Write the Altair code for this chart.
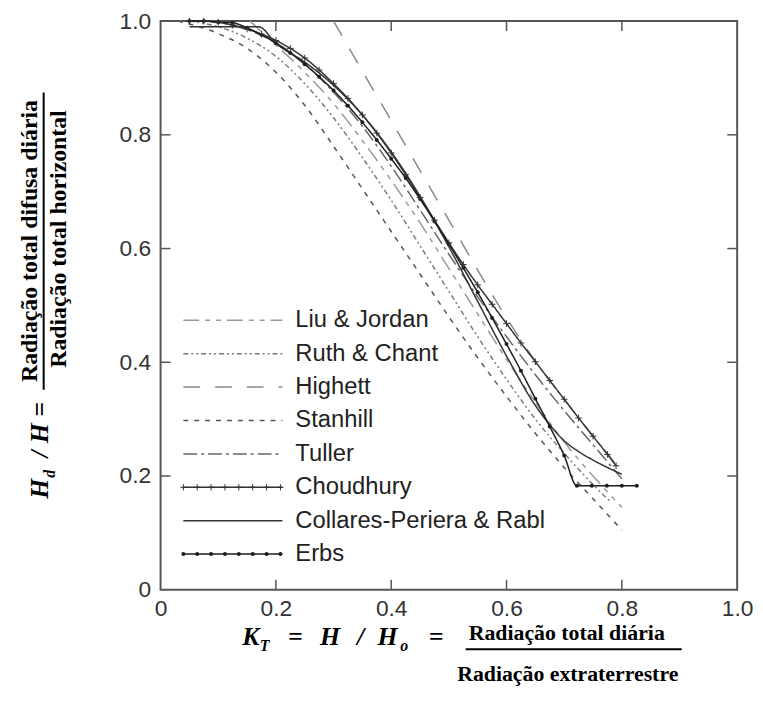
import altair as alt
import pandas as pd

# ---------------- data ----------------
names = ["Liu & Jordan", "Ruth & Chant", "Highett", "Stanhill", "Tuller",
         "Choudhury", "Collares-Periera & Rabl", "Erbs"]

liu_kt = [0.155, 0.2, 0.25, 0.3, 0.35, 0.4, 0.45, 0.5, 0.55, 0.6, 0.65, 0.7, 0.75, 0.8]
liu_hd = [1.0, 0.958, 0.91, 0.855, 0.79, 0.72, 0.645, 0.565, 0.485, 0.405, 0.33, 0.26, 0.2, 0.145]

ruth_kt = [0.05, 0.1, 0.15, 0.2, 0.25, 0.3, 0.35, 0.4, 0.45, 0.5, 0.55, 0.6, 0.65, 0.7, 0.75, 0.78]
ruth_hd = [1.0, 0.99, 0.97, 0.938, 0.89, 0.83, 0.76, 0.685, 0.605, 0.525, 0.445, 0.37, 0.3, 0.24, 0.185, 0.155]

highett_kt = [0.3, 0.35, 0.4, 0.45, 0.5, 0.55, 0.6, 0.65, 0.7, 0.75, 0.8]
highett_hd = [1.0, 0.912, 0.825, 0.737, 0.65, 0.562, 0.478, 0.402, 0.335, 0.27, 0.208]

stanhill_kt = [0.03, 0.1, 0.15, 0.2, 0.25, 0.3, 0.35, 0.4, 0.45, 0.5, 0.55, 0.6, 0.65, 0.7, 0.75, 0.8]
stanhill_hd = [1.0, 0.978, 0.952, 0.91, 0.852, 0.78, 0.705, 0.63, 0.555, 0.48, 0.408, 0.34, 0.275, 0.215, 0.16, 0.105]

tuller_kt = [0.08, 0.15, 0.2, 0.25, 0.3, 0.35, 0.4, 0.45, 0.5, 0.55, 0.6, 0.65, 0.7, 0.75, 0.8]
tuller_hd = [1.0, 0.985, 0.962, 0.925, 0.875, 0.815, 0.745, 0.668, 0.59, 0.515, 0.445, 0.378, 0.315, 0.255, 0.195]

chou_kt = [0.05, 0.075, 0.1, 0.125, 0.15, 0.175, 0.2, 0.225, 0.25, 0.275, 0.3, 0.325, 0.35, 0.375,
           0.4, 0.425, 0.45, 0.475, 0.5, 0.525, 0.55, 0.575, 0.6, 0.625, 0.65, 0.675, 0.7, 0.725,
           0.75, 0.775, 0.79]
chou_hd = [1.0, 1.0, 0.998, 0.993, 0.986, 0.977, 0.966, 0.952, 0.935, 0.914, 0.89, 0.864, 0.835, 0.803,
           0.768, 0.73, 0.69, 0.65, 0.61, 0.572, 0.536, 0.502, 0.468, 0.434, 0.401, 0.368, 0.335, 0.302,
           0.27, 0.238, 0.218]

coll_kt = [0.05, 0.1, 0.17, 0.2, 0.25, 0.3, 0.35, 0.4, 0.45, 0.5, 0.55, 0.6, 0.65, 0.675, 0.7, 0.725,
           0.75, 0.775, 0.8]
coll_hd = [0.99, 0.99, 0.99, 0.961, 0.928, 0.887, 0.835, 0.77, 0.692, 0.603, 0.507, 0.411, 0.324, 0.29,
           0.262, 0.243, 0.228, 0.215, 0.203]

erbs_kt = [0.05, 0.075, 0.1, 0.125, 0.15, 0.175, 0.2, 0.225, 0.25, 0.275, 0.3, 0.325, 0.35, 0.375,
           0.4, 0.425, 0.45, 0.475, 0.5, 0.525, 0.55, 0.575, 0.6, 0.625, 0.65, 0.675, 0.7, 0.722,
           0.748, 0.774, 0.8, 0.826]
erbs_hd = [1.0, 1.0, 0.998, 0.997, 0.988, 0.976, 0.961, 0.944, 0.924, 0.902, 0.878, 0.851, 0.822, 0.791,
           0.758, 0.724, 0.687, 0.648, 0.608, 0.566, 0.523, 0.478, 0.432, 0.385, 0.336, 0.287, 0.236, 0.183,
           0.183, 0.183, 0.183, 0.183]

tick_vals = [0, 0.2, 0.4, 0.6, 0.8, 1.0]
inner_ticks = [0.2, 0.4, 0.6, 0.8]

series = {
    "Liu & Jordan": (liu_kt, liu_hd),
    "Ruth & Chant": (ruth_kt, ruth_hd),
    "Highett": (highett_kt, highett_hd),
    "Stanhill": (stanhill_kt, stanhill_hd),
    "Tuller": (tuller_kt, tuller_hd),
    "Choudhury": (chou_kt, chou_hd),
    "Collares-Periera & Rabl": (coll_kt, coll_hd),
    "Erbs": (erbs_kt, erbs_hd),
}

rows = []
for n in names:
    kts, hds = series[n]
    for k, h in zip(kts, hds):
        rows.append({"name": n, "kt": k, "hd": h})
df = pd.DataFrame(rows)

# ---------------- styles ----------------
W, H = 582, 574
dashes = [[16, 6, 5, 6, 5, 6], [5, 3, 2, 3, 2, 3], [17, 15], [5, 6], [14, 4, 3, 4],
          [1, 0], [1, 0], [1, 0]]
colors = ["#9a9a9a", "#7a7a7a", "#8a8a8a", "#555555", "#666666", "#333333", "#333333", "#1e1e1e"]

col_scale = alt.Scale(domain=names, range=colors)
dash_scale = alt.Scale(domain=names, range=dashes)

xs = alt.Scale(domain=[0, 1], nice=False, zero=False)
ys = alt.Scale(domain=[0, 1], nice=False, zero=False)
label_expr = "datum.value == 0 ? '0' : format(datum.value, '.1f')"

LAB_FONT = "Liberation Sans"

lines = alt.Chart(df).mark_line(strokeWidth=1.5, interpolate="monotone").encode(
    x=alt.X("kt:Q", scale=xs, axis=alt.Axis(values=tick_vals, labelExpr=label_expr, ticks=False,
                                             domain=False, grid=False, title=None, labelFontSize=23,
                                             labelFont=LAB_FONT, labelColor="#333",
                                             labelPadding=8, labelFlush=False, labelOverlap=False)),
    y=alt.Y("hd:Q", scale=ys, axis=alt.Axis(values=tick_vals, labelExpr=label_expr, ticks=False,
                                             domain=False, grid=False, title=None, labelFontSize=23,
                                             labelFont=LAB_FONT, labelColor="#333",
                                             labelPadding=10, labelFlush=False, labelOverlap=False)),
    color=alt.Color("name:N", scale=col_scale, legend=None),
    strokeDash=alt.StrokeDash("name:N", scale=dash_scale, legend=None),
    order=alt.Order("kt:Q"),
)

erbs_pts = alt.Chart(df[df.name == "Erbs"]).mark_circle(size=16, color="#1e1e1e", opacity=1).encode(
    x=alt.X("kt:Q", scale=xs), y=alt.Y("hd:Q", scale=ys))

plus = "M-1,0L1,0M0,-1L0,1"
chou_pts = alt.Chart(df[df.name == "Choudhury"]).mark_point(
    shape=plus, size=45, color="#333", strokeWidth=1, filled=False, opacity=1).encode(
    x=alt.X("kt:Q", scale=xs), y=alt.Y("hd:Q", scale=ys))

tdf = pd.DataFrame({"v": inner_ticks})
tick_style = dict(color="#555", strokeWidth=1.5)
t_left = alt.Chart(tdf).mark_rule(**tick_style).encode(
    y=alt.Y("v:Q", scale=ys), x=alt.value(0), x2=alt.value(10))
t_right = alt.Chart(tdf).mark_rule(**tick_style).encode(
    y=alt.Y("v:Q", scale=ys), x=alt.value(W), x2=alt.value(W - 10))
t_bottom = alt.Chart(tdf).mark_rule(**tick_style).encode(
    x=alt.X("v:Q", scale=xs), y=alt.value(H), y2=alt.value(H - 10))
t_top = alt.Chart(tdf).mark_rule(**tick_style).encode(
    x=alt.X("v:Q", scale=xs), y=alt.value(0), y2=alt.value(10))

plot = alt.layer(lines, erbs_pts, chou_pts, t_left, t_right, t_bottom, t_top)

# ---------------- legend (inside plot) ----------------
leg = pd.DataFrame({"name": names, "idx": list(range(len(names)))})
leg_y = alt.Y("idx:Q", scale=alt.Scale(domain=[0, 7], range=[302, 538]), axis=None)
leg_lines = alt.Chart(leg).mark_rule(strokeWidth=1.5).encode(
    x=alt.value(23), x2=alt.value(123), y=leg_y,
    color=alt.Color("name:N", scale=col_scale, legend=None),
    strokeDash=alt.StrokeDash("name:N", scale=dash_scale, legend=None))
leg_text = alt.Chart(leg).mark_text(align="left", baseline="middle", fontSize=24,
                                    font=LAB_FONT, color="#222").encode(
    x=alt.value(136), y=leg_y, text="name:N")

mk_pos = [0, 14, 28, 42, 56, 70, 84, 98]
mk_rows = [{"name": n, "idx": names.index(n), "pos": p} for n in ["Choudhury", "Erbs"] for p in mk_pos]
mk = pd.DataFrame(mk_rows)
mk_x = alt.X("pos:Q", scale=alt.Scale(domain=[0, 100], range=[23, 123]), axis=None)
leg_plus = alt.Chart(mk[mk.name == "Choudhury"]).mark_point(
    shape=plus, size=40, color="#333", strokeWidth=1, filled=False, opacity=1).encode(x=mk_x, y=leg_y)
leg_dots = alt.Chart(mk[mk.name == "Erbs"]).mark_circle(size=16, color="#1e1e1e", opacity=1).encode(
    x=mk_x, y=leg_y)
legend = alt.layer(leg_lines, leg_text, leg_plus, leg_dots)


# ---------------- axis titles (as text) ----------------
def txt(s, x, y, size=23, style="normal", angle=0, align="center"):
    return alt.Chart(pd.DataFrame({"t": [s]})).mark_text(
        font="Liberation Serif", fontSize=size, fontWeight="bold", fontStyle=style,
        angle=angle, align=align, baseline="middle", color="black").encode(
        text="t:N", x=alt.value(x), y=alt.value(y))


def bar(x1, x2, y1, y2):
    return alt.Chart(pd.DataFrame({"a": [0]})).mark_rule(color="black", strokeWidth=2).encode(
        x=alt.value(x1), x2=alt.value(x2), y=alt.value(y1), y2=alt.value(y2))


# y title (plot coords: page x - 162, page y - 18), rotated
ytitle = [
    txt("H", -122, 472, size=26, style="italic", angle=270),
    txt("d", -112, 457, size=16, style="italic", angle=270),
    txt("/", -122, 437, size=26, style="italic", angle=270),
    txt("H", -122, 416, size=26, style="italic", angle=270),
    txt("=", -122, 392, size=26, style="italic", angle=270),
    txt("Radiação total difusa diária", -132, 222, size=24, angle=270),
    bar(-118, -118, 72, 372),
    txt("Radiação total horizontal", -102, 220, size=24, angle=270),
]
# x title
xtitle = [
    txt("K", 91, 622, size=26, style="italic"),
    txt("T", 105, 631, size=16, style="italic"),
    txt("=", 136, 622, size=26, style="italic"),
    txt("H", 171, 622, size=26, style="italic"),
    txt("/", 202, 622, size=26, style="italic"),
    txt("H", 229, 622, size=26, style="italic"),
    txt("o", 246, 631, size=16, style="italic"),
    txt("=", 278, 622, size=26, style="italic"),
    txt("Radiação total diária", 410, 618, size=22),
    bar(308, 526, 634, 634),
    txt("Radiação extraterrestre", 411, 659, size=22),
]

chart = alt.layer(plot, legend, *ytitle, *xtitle).resolve_scale(
    x="independent", y="independent"
).properties(
    width=W, height=H,
    padding={"left": 154, "top": 10, "right": 18, "bottom": 100},
    autosize=alt.AutoSizeParams(type="none"),
).configure_view(stroke="#555", strokeWidth=2)

chart.save("out.html", embed_options={"renderer": "svg", "actions": False})
